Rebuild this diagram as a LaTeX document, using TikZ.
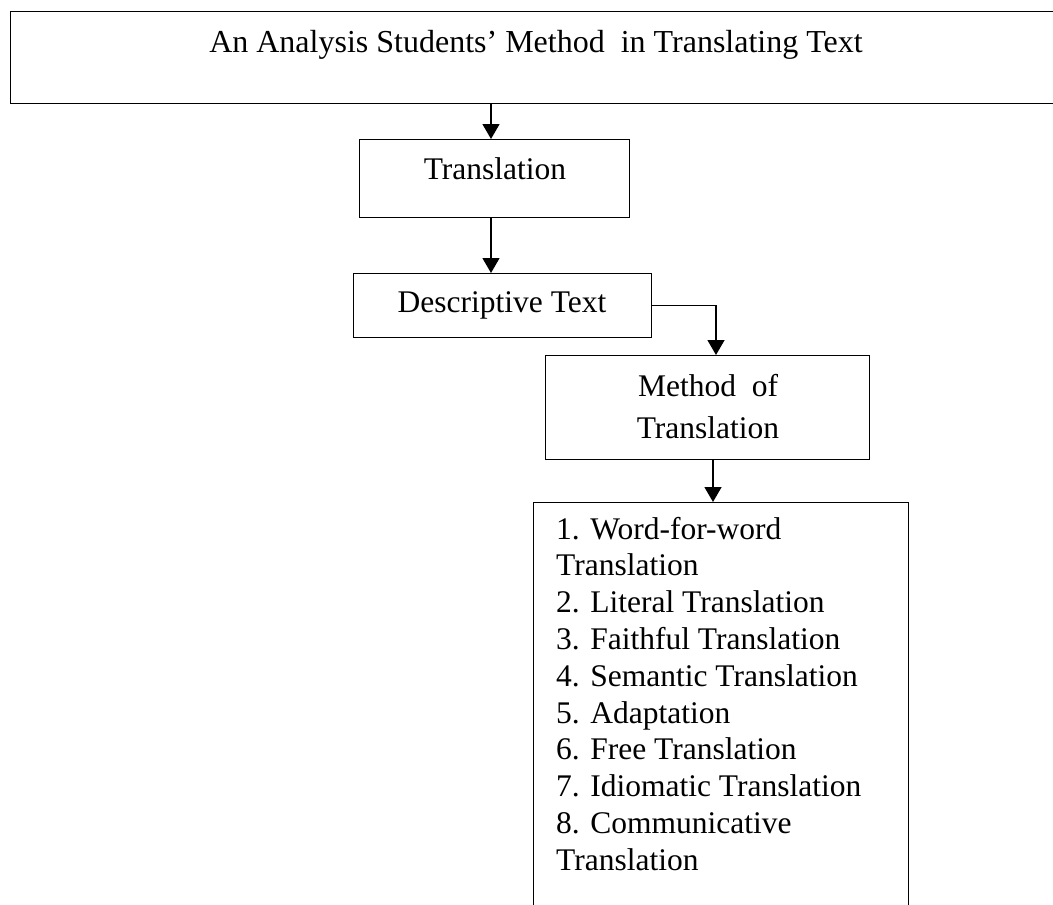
\documentclass[tikz,border=0pt]{standalone}
\usepackage{fontspec}
\setmainfont{Liberation Serif}
\usetikzlibrary{arrows.meta}
\begin{document}
\begin{tikzpicture}[x=1pt,y=-1pt,
  boxline/.style={line width=1.4pt},
  box/.style={boxline,draw,rectangle,inner sep=0pt,anchor=north west},
  txt/.style={inner sep=0pt,anchor=base,font=\fontsize{31.5}{36}\selectfont},
  arr/.style={boxline,-{Triangle[length=15pt,width=17pt]}}]
\useasboundingbox (0,0) rectangle (1053,905);
% boxes
\node[box,minimum width=1060pt,minimum height=92pt] (top) at (10,11) {};
\node[box,minimum width=270pt,minimum height=78pt] (trans) at (359,139) {};
\node[box,minimum width=298pt,minimum height=64pt] (desc) at (353,273) {};
\node[box,minimum width=324pt,minimum height=104pt] (method) at (545,355) {};
\node[box,minimum width=375pt,minimum height=420pt] (list) at (533,502) {};
% texts
\node[txt,font=\fontsize{32}{36}\selectfont] (ttop) at (536,52) {An Analysis Students’ Method\ \ in Translating Text};
\node[txt] (ttrans) at (495,179) {Translation};
\node[txt] (tdesc) at (502,312) {Descriptive Text};
\node[txt] (tm1) at (708,396) {Method\ \ of};
\node[txt] (tm2) at (708,438) {Translation};
\foreach \t [count=\i from 0] in {1. Word-for-word,Translation,2. Literal Translation,3. Faithful Translation,4. Semantic Translation,5. Adaptation,6. Free Translation,7. Idiomatic Translation,8. Communicative,Translation}
  \node[txt,anchor=base west] (l\i) at (556,539+36.8*\i) {\t};
% connectors
\draw[arr] (top.south -| 491,0) -- (trans.north -| 491,0);
\draw[arr] (trans.south -| 491,0) -- (desc.north -| 491,0);
\draw[arr] (desc.east) -| (method.north -| 716,0);
\draw[arr] (method.south -| 713,0) -- (list.north -| 713,0);
\end{tikzpicture}
\end{document}
